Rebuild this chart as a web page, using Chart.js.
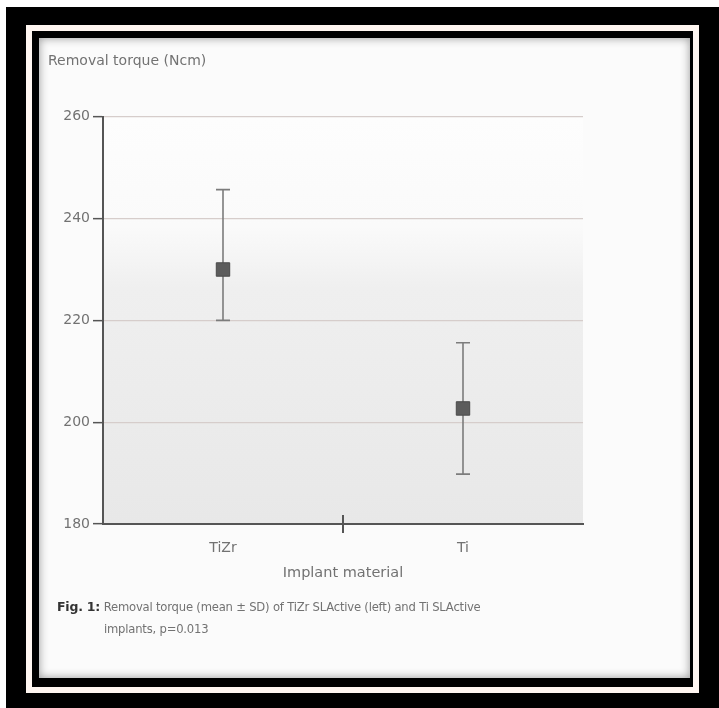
<!DOCTYPE html>
<html>
<head>
<meta charset="utf-8">
<script src="https://cdn.jsdelivr.net/npm/chart.js@4/dist/chart.umd.min.js"></script>
<style>
  body { margin: 0; background: #fff; width: 719px; height: 708px; position: relative; overflow: hidden; }
  .box { position: absolute; }
  #outer { left: 6px; top: 7px; width: 713px; height: 701px; background: #000; }
  #line { left: 26px; top: 25px; width: 673px; height: 668px; background: #fff6f1; }
  #inner { left: 32px; top: 31px; width: 661px; height: 656px; background: #000; }
  #panel { left: 39px; top: 38px; width: 651px; height: 640px; background: #fbfbfb;
           box-shadow: inset 0 0 10px rgba(0,0,0,0.4); }
  #wrap { left: 39px; top: 38px; width: 651px; height: 640px; }
  #caption { left: 57px; top: 596px; width: 600px; font-family: "DejaVu Sans", sans-serif;
             font-size: 11.6px; letter-spacing: -0.2px; color: #727272; line-height: 22px; }
  #caption b { color: #333; font-size: 12.5px; }
</style>
</head>
<body>
<div class="box" id="outer"></div>
<div class="box" id="line"></div>
<div class="box" id="inner"></div>
<div class="box" id="panel"></div>
<div class="box" id="wrap"><canvas id="ChartTorque"></canvas></div>
<div class="box" id="caption"><b>Fig. 1:</b> Removal torque (mean ± SD) of TiZr SLActive (left) and Ti SLActive<br><span style="padding-left:47px">implants, p=0.013</span></div>
<script>
// values
const materials = ['TiZr', 'Ti'];
const meanTorque = [230, 202.7];
const upperTorque = [245.7, 215.6];
const lowerTorque = [220, 189.8];
const yTicks = [180, 200, 220, 240, 260];

const textGray = '#727272';
const axisGray = '#555';

// plot background gradient
const plotBg = {
  id: 'plotBg',
  beforeDraw(chart) {
    const {ctx, chartArea: a} = chart;
    const g = ctx.createLinearGradient(0, a.top, 0, a.bottom);
    g.addColorStop(0, '#fdfdfd');
    g.addColorStop(0.27, '#fafafa');
    g.addColorStop(0.42, '#efefef');
    g.addColorStop(1, '#e8e8e8');
    ctx.save();
    ctx.fillStyle = g;
    ctx.fillRect(a.left, a.top, a.right - a.left, a.bottom - a.top);
    ctx.restore();
  }
};

// mean +- SD whiskers
const errorBars = {
  id: 'errorBars',
  beforeDatasetsDraw(chart) {
    const {ctx, scales: {x, y}} = chart;
    ctx.save();
    ctx.strokeStyle = '#7c7c7c';
    ctx.lineWidth = 1.6;
    materials.forEach(function(m, i) {
      const px = x.getPixelForValue(i);
      const pt = y.getPixelForValue(upperTorque[i]);
      const pb = y.getPixelForValue(lowerTorque[i]);
      ctx.beginPath();
      ctx.moveTo(px, pt); ctx.lineTo(px, pb);
      ctx.moveTo(px - 7, pt); ctx.lineTo(px + 7, pt);
      ctx.moveTo(px - 7, pb); ctx.lineTo(px + 7, pb);
      ctx.stroke();
    });
    ctx.restore();
  }
};

// the single tick between the two categories
const midTick = {
  id: 'midTick',
  afterDraw(chart) {
    const {ctx, scales: {x}} = chart;
    const px = x.getPixelForValue(0.5);
    ctx.save();
    ctx.strokeStyle = axisGray;
    ctx.lineWidth = 2;
    ctx.beginPath();
    ctx.moveTo(px, x.top - 9);
    ctx.lineTo(px, x.top + 9);
    ctx.stroke();
    ctx.restore();
  }
};

const config_torque = {
  type: 'line',
  data: {
    labels: materials,
    datasets: [{
      data: meanTorque,
      showLine: false,
      pointStyle: 'rect',
      pointRadius: 9.5,
      pointBackgroundColor: '#5c5c5c',
      pointBorderColor: '#4a4a4a',
      pointBorderWidth: 1
    }]
  },
  options: {
    responsive: true,
    maintainAspectRatio: false,
    animation: false,
    layout: { padding: { left: 9, right: 107, top: 0, bottom: 84 } },
    plugins: {
      legend: { display: false },
      tooltip: { enabled: false },
      title: {
        display: true,
        text: 'Removal torque (Ncm)',
        align: 'start',
        color: textGray,
        font: { family: 'DejaVu Sans', size: 14, weight: 'normal' },
        padding: { top: 15, bottom: 47 }
      }
    },
    scales: {
      x: {
        offset: true,
        afterFit: function(s) { s.height = 70; },
        grid: { display: false, drawTicks: false },
        border: { color: axisGray, width: 2 },
        ticks: { color: textGray, padding: 16, font: { family: 'DejaVu Sans', size: 14 } },
        title: {
          display: true,
          text: 'Implant material',
          color: textGray,
          font: { family: 'DejaVu Sans', size: 14.5 },
          padding: { top: 0, bottom: 12 }
        }
      },
      y: {
        min: 180,
        max: 260,
        afterFit: function(s) { s.width = 55; },
        afterBuildTicks: function(s) { s.ticks = yTicks.map(v => ({value: v})); },
        border: { color: axisGray, width: 2 },
        grid: {
          color: '#d6cdcb',
          lineWidth: 1.3,
          tickLength: 10,
          tickColor: axisGray,
          tickWidth: 1.5
        },
        ticks: { color: textGray, padding: 3, font: { family: 'DejaVu Sans', size: 14 } }
      }
    }
  },
  plugins: [plotBg, errorBars, midTick]
};

const ChartTorque = new Chart(document.getElementById('ChartTorque'), config_torque);
</script>
</body>
</html>
